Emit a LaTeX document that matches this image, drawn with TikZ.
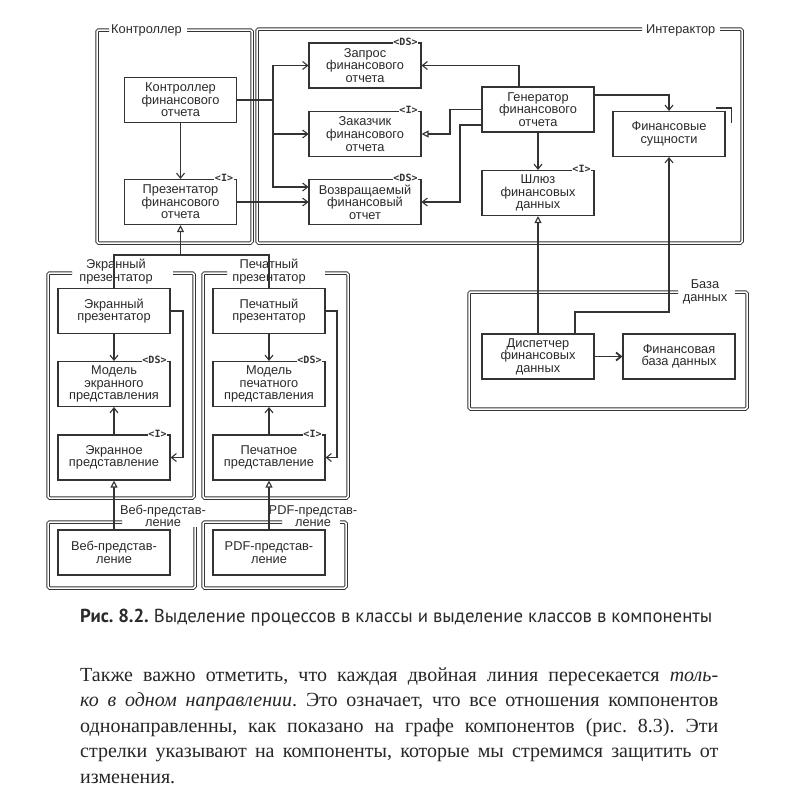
\documentclass[tikz,border=0pt]{standalone}
\usepackage{fontspec}
\setmainfont{Liberation Serif}
\newfontfamily\boxfont{Liberation Sans}
\newfontfamily\capfont{PT Sans}
\newfontfamily\tagfont{DejaVu Sans Mono}
\usetikzlibrary{arrows.meta}
\definecolor{lc}{HTML}{333333}
\definecolor{tc}{HTML}{2A2A2A}
\newcommand\bxfont{\boxfont\fontsize{12.8}{12.6}\selectfont}
\frenchspacing
\begin{document}
\begin{tikzpicture}[x=1pt,y=-1pt,
  box/.style={draw=lc, line width=1.1pt, minimum width=112pt, minimum height=45pt, inner sep=0pt, align=center, font=\bxfont, text=tc},
  tag/.style={fill=white, inner xsep=0.8pt, inner ysep=0.3pt, font=\tagfont\bfseries\fontsize{10}{10}\selectfont, text=lc, anchor=east},
  frame/.style={draw=lc, line width=1pt, double=white, double distance=1.5pt, rounded corners=1.5pt},
  flabel/.style={inner sep=0pt, align=center, font=\bxfont, text=tc},
  conn/.style={draw=lc, line width=1.1pt},
  arr/.style={conn, -{Straight Barb[length=5pt,width=8pt]}},
  inh/.style={conn, -{Triangle[open,length=7pt,width=7pt,fill=white]}}]
\useasboundingbox (0,0) rectangle (800,793);
\fill[white] (0,0) rectangle (800,793);

% ---------- frames ----------
\draw[frame] (109,30) -- (97,30) -- (97,243) -- (252,243) -- (252,30) -- (187,30);
\node[flabel, anchor=west] (lctl) at (111,30) {Контроллер};
\draw[frame] (642,29) -- (257,29) -- (257,243) -- (742,243) -- (742,29) -- (720,29);
\node[flabel, anchor=west] (lint) at (646,30) {Интерактор};
\draw[frame] (72,273) -- (48,273) -- (48,498) -- (194,498) -- (194,273) -- (173,273);
\node[flabel] (lep) at (116,271.5) {Экранный\\презентатор};
\draw[frame] (227,273) -- (203,273) -- (203,498) -- (348,498) -- (348,273) -- (325,273);
\node[flabel] (lpp) at (269,271.5) {Печатный\\презентатор};
\draw[frame] (195,527) -- (195,588) -- (48,588) -- (48,522) -- (122,522);
\node[flabel] (lweb) at (163,516) {Веб-представ-\\ление};
\draw[frame] (282,522) -- (203,522) -- (203,588) -- (346,588) -- (346,522) -- (340,522);
\node[flabel] (lpdf) at (313,516) {PDF-представ-\\ление};
\draw[frame] (678,292) -- (469,292) -- (469,409) -- (747,409) -- (747,292) -- (735,292);
\node[flabel] (ldb) at (705,292) {База\\данных};

% ---------- boxes ----------
\node[box] (cfo) at (180.5,100) {Контроллер\\финансового\\отчета};
\node[box] (pfo) at (180.5,202) {Презентатор\\финансового\\отчета};
\node[box] (zapros) at (365,65.5) {Запрос\\финансового\\отчета};
\node[box] (zakaz) at (365,134) {Заказчик\\финансового\\отчета};
\node[box] (vozvr) at (365,202) {Возвращаемый\\финансовый\\отчет};
\node[box] (gen) at (538,109.5) {Генератор\\финансового\\отчета};
\node[box] (fs) at (669,134) {Финансовые\\сущности};
\node[box] (shluz) at (538,193) {Шлюз\\финансовых\\данных};
\node[box] (disp) at (538,356.5) {Диспетчер\\финансовых\\данных};
\node[box] (fbd) at (679,356.5) {Финансовая\\база данных};
\node[box] (ep) at (114,311) {Экранный\\презентатор};
\node[box] (mep) at (114,384) {Модель\\экранного\\представления};
\node[box] (epr) at (114,457.5) {Экранное\\представление};
\node[box] (pp) at (269,311) {Печатный\\презентатор};
\node[box] (mpp) at (269,384) {Модель\\печатного\\представления};
\node[box] (ppr) at (269,457.5) {Печатное\\представление};
\node[box] (web) at (114,552.5) {Веб-представ-\\ление};
\node[box] (pdf) at (269,552.5) {PDF-представ-\\ление};

% ---------- connectors ----------
\coordinate (jt) at (180.5,255);
\coordinate (jx) at (273,100);
\coordinate (k1) at (450,134);
\coordinate (k2) at (460,202);
\coordinate (k3) at (669,312);
\coordinate (e1) at (183,457.5);
\coordinate (p1) at (337,457.5);

\draw[arr] (cfo) -- (pfo);
\draw[conn] (ep.north) -- (ep.north |- jt) -- (pp.north |- jt) -- (pp.north);
\draw[inh] (jt) -- (pfo.south);
\draw[conn] (cfo.east) -- (jx);
\draw[arr] (jx) |- (zapros.west);
\draw[arr] (jx) |- (zakaz.west);
\draw[arr] (jx) |- ([yshift=15pt]vozvr.west);
\draw[arr] (pfo.east) -- (vozvr.west);
\draw[arr] ([xshift=-19pt]gen.north) |- (zapros.east);
\draw[inh] (gen.west) -| (k1) -- (zakaz.east);
\draw[arr] ([yshift=-15.5pt]gen.west) -| (k2) -- (vozvr.east);
\draw[arr] ([yshift=14.5pt]gen.east) -| (fs.north);
\draw[arr] (gen.south) -- (shluz.north);
\draw[inh] (disp.north) -- (shluz.south);
\draw[arr] ([xshift=37pt]disp.north) |- (k3) -- (fs.south);
\draw[conn, line width=1.8pt, -{Straight Barb[length=5pt,width=8pt]}] (disp.east) -- (fbd.west);
\draw[arr] (ep.south) -- (mep.north);
\draw[arr] (epr.north) -- (mep.south);
\draw[arr] (ep.east) -| (e1) -- (epr.east);
\draw[arr] (pp.south) -- (mpp.north);
\draw[arr] (ppr.north) -- (mpp.south);
\draw[arr] (pp.east) -| (p1) -- (ppr.east);
\draw[inh] (web.north) -- (epr.south);
\draw[inh] (pdf.north) -- (ppr.south);

% corner mark on Финансовые сущности
\draw[conn] ([shift={(-10pt,3pt)}]fs.north east) -- ([shift={(6pt,3pt)}]fs.north east) -- ([shift={(6pt,-12pt)}]fs.north east);

% ---------- stereotype tags ----------
\node[tag] (t1) at ([xshift=-3pt,yshift=0.8pt]pfo.north east) {<I>};
\node[tag] (t2) at ([xshift=-3pt,yshift=0.8pt]zapros.north east) {<DS>};
\node[tag] (t3) at ([xshift=-3pt,yshift=0.8pt]zakaz.north east) {<I>};
\node[tag] (t4) at ([xshift=-3pt,yshift=0.8pt]vozvr.north east) {<DS>};
\node[tag] (t5) at ([xshift=-3pt,yshift=0.8pt]shluz.north east) {<I>};
\node[tag] (t6) at ([xshift=-3pt,yshift=0.8pt]mep.north east) {<DS>};
\node[tag] (t7) at ([xshift=-3pt,yshift=0.8pt]epr.north east) {<I>};
\node[tag] (t8) at ([xshift=-3pt,yshift=0.8pt]mpp.north east) {<DS>};
\node[tag] (t9) at ([xshift=-3pt,yshift=0.8pt]ppr.north east) {<I>};

% ---------- caption ----------
\node[anchor=base west, inner sep=0pt, font=\capfont\fontsize{18.8}{22}\selectfont, text=tc] (cap) at (80,622)
  {\textbf{Рис. 8.2.} Выделение процессов в классы и выделение классов в компоненты};

% ---------- body text ----------
\begin{scope}[every node/.style={anchor=base west, inner sep=0pt, font=\fontsize{20}{25}\selectfont, text=black!85}]
\node (b1) at (80,681.5) {\makebox[638pt][s]{Также важно отметить, что каждая двойная линия пересекается \textit{толь-}}};
\node (b2) at (80,706.9) {\makebox[638pt][s]{\textit{ко в одном направлении}. Это означает, что все отношения компонентов}};
\node (b3) at (80,732.3) {\makebox[638pt][s]{однонаправленны, как показано на графе компонентов (рис. 8.3). Эти}};
\node (b4) at (80,757.7) {\makebox[638pt][s]{стрелки указывают на компоненты, которые мы стремимся защитить от}};
\node (b5) at (80,783.1) {изменения.};
\end{scope}
\end{tikzpicture}
\end{document}
